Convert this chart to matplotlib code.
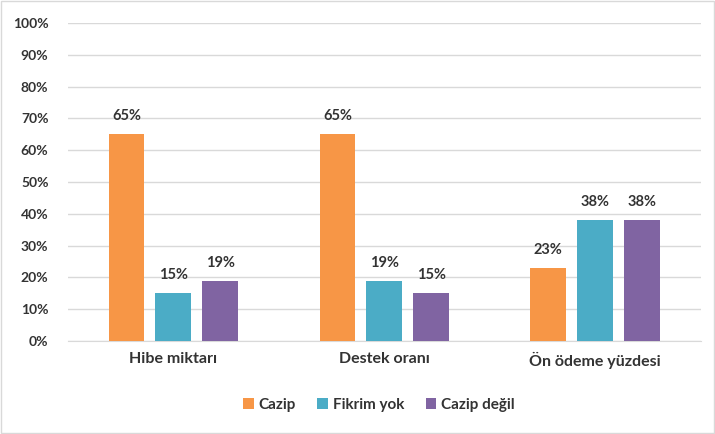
import numpy as np
import matplotlib.pyplot as plt
from matplotlib.patches import Rectangle

plt.rcParams['font.family'] = ['Lato', 'DejaVu Sans']

categories = ['Hibe miktarı', 'Destek oranı', 'Ön ödeme yüzdesi']
series_names = ['Cazip', 'Fikrim yok', 'Cazip değil']
cazip = [65, 65, 23]
fikrim_yok = [15, 19, 38]
cazip_degil = [19, 15, 38]
colors = ['#F79646', '#4BACC6', '#8064A2']

fig = plt.figure(figsize=(7.15, 4.34), dpi=100)
ax = fig.add_axes([0.095, 0.214, 0.885, 0.733])

x = np.arange(len(categories))
width = 0.17
step = 0.222
text_col = '#333333'

for i, (vals, name) in enumerate(zip([cazip, fikrim_yok, cazip_degil], series_names)):
    pos = x + (i - 1) * step
    ax.bar(pos, vals, width, color=colors[i], label=name, zorder=3)
    for p, v in zip(pos, vals):
        ax.text(p, v + 3.5, f'{v}%', ha='center', va='bottom', fontsize=10.5,
                fontweight='bold', color=text_col)

ax.set_xlim(-0.5, 2.5)
ax.set_ylim(0, 100)
ax.set_yticks(np.arange(0, 101, 10))
ax.set_yticklabels([f'{t}%' for t in range(0, 101, 10)])
ax.set_xticks(x)
ax.set_xticklabels(categories)
ax.tick_params(axis='y', length=0, pad=14, labelsize=10, labelcolor=text_col)
ax.tick_params(axis='x', length=0, pad=8, labelsize=11.5, labelcolor=text_col)
for lbl in ax.get_yticklabels() + ax.get_xticklabels():
    lbl.set_fontweight('bold')
ax.grid(axis='y', color='#D9D9D9', linewidth=1, zorder=0)
for s in ['top', 'right', 'left']:
    ax.spines[s].set_visible(False)
ax.spines['bottom'].set_color('#D9D9D9')

leg = fig.legend(loc='center', bbox_to_anchor=(0.53, 0.067), ncol=3, frameon=False,
                 handlelength=0.7, handleheight=0.7, handletextpad=0.3,
                 columnspacing=1.4, prop={'size': 11, 'weight': 'bold'})
for t in leg.get_texts():
    t.set_color(text_col)

fig.patches.append(Rectangle((0.002, 0.003), 0.996, 0.994, transform=fig.transFigure,
                             fill=False, edgecolor='#D9D9D9', linewidth=1))

fig.savefig('out.png', dpi=100)
